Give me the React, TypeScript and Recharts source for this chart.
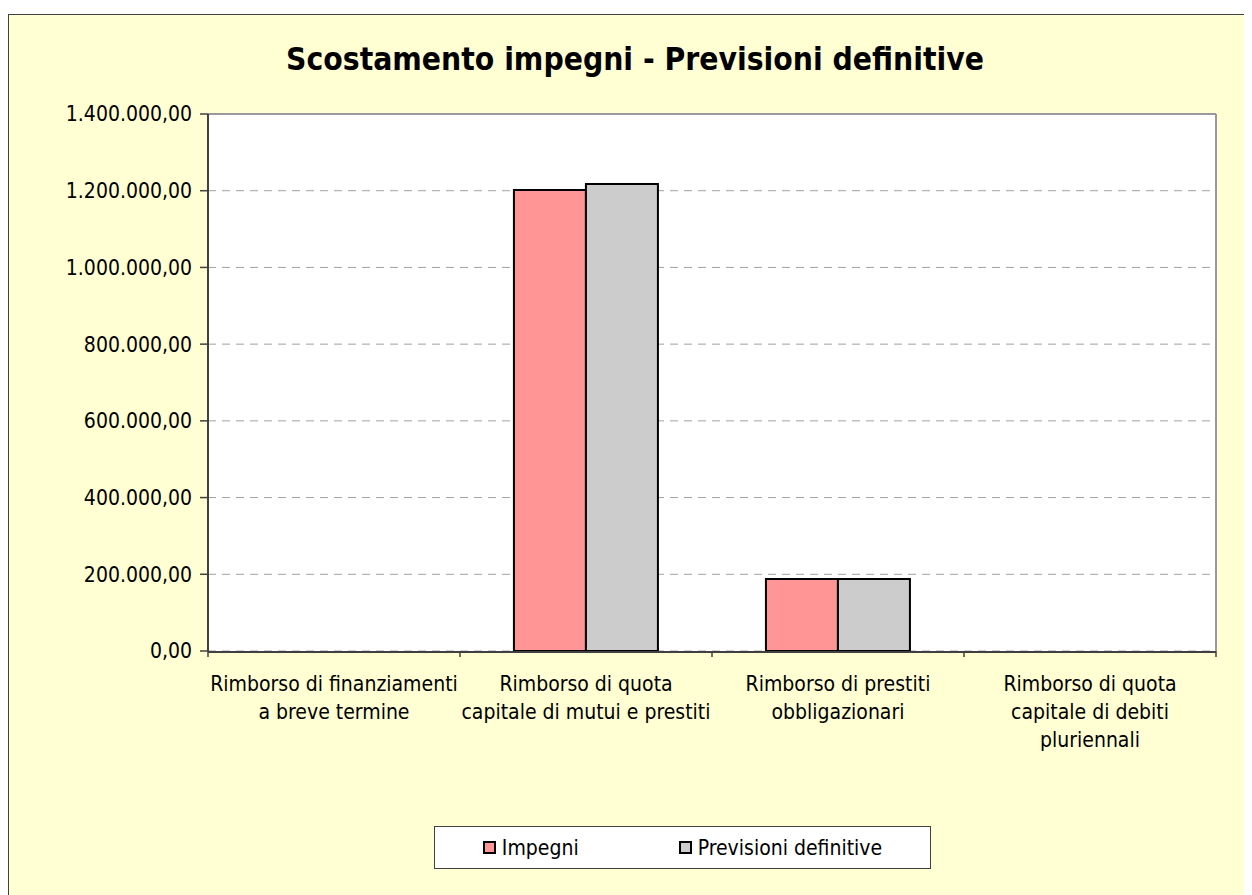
import React from 'react';
import { BarChart, Bar, XAxis, YAxis, CartesianGrid, Legend } from 'recharts';

const categories = [
    'Rimborso di finanziamenti\na breve termine',
    'Rimborso di quota\ncapitale di mutui e prestiti',
    'Rimborso di prestiti\nobbligazionari',
    'Rimborso di quota\ncapitale di debiti\npluriennali',
];
const impegni = [0, 1201800, 187600, 0];
const previsioni = [0, 1217500, 187600, 0];
const yTicks = [0, 200000, 400000, 600000, 800000, 1000000, 1200000, 1400000];
const boundaryTicks = [0, 1, 2, 3, 4];

const seriesNames = { impegni: 'Impegni', previsioni: 'Previsioni definitive' };
const colors = { impegni: '#FF9595', previsioni: '#CCCCCC' };

const data = categories.map((name, i) => ({
    name,
    impegni: impegni[i],
    previsioni: previsioni[i],
}));

const FONT = "'DejaVu Sans Condensed', 'DejaVu Sans', Tahoma, sans-serif";

// 1234567 -> "1.234.567,00"
const formatIt = (v: number) => {
    const [int, dec] = v.toFixed(2).split('.');
    return int.replace(/\B(?=(\d{3})+(?!\d))/g, '.') + ',' + dec;
};

const CategoryTick = (props: any) => {
    const { x, y, payload } = props;
    const lines = String(payload.value).split('\n');
    return (
        <text x={x} y={y} textAnchor="middle" fontSize={21} fill="#000" fontFamily={FONT}>
            {lines.map((l: string, i: number) => (
                <tspan key={i} x={x} dy={i === 0 ? 39 : 28}>
                    {l}
                </tspan>
            ))}
        </text>
    );
};

const LegendBox = () => (
    <div
        style={{
            width: 495,
            height: 41,
            background: '#fff',
            border: '1px solid #404040',
            display: 'flex',
            alignItems: 'center',
            justifyContent: 'center',
            fontFamily: FONT,
            fontSize: 21,
            color: '#000',
        }}
    >
        {(['impegni', 'previsioni'] as const).map((k, i) => (
            <div key={k} style={{ display: 'flex', alignItems: 'center', marginLeft: i === 0 ? 0 : 100 }}>
                <span
                    style={{
                        display: 'inline-block',
                        width: 9,
                        height: 9,
                        border: '2px solid #000',
                        background: colors[k],
                        marginRight: 6,
                    }}
                />
                <span>{seriesNames[k]}</span>
            </div>
        ))}
    </div>
);

export default function App() {
    return (
        <div style={{ width: 1244, height: 887, overflow: 'hidden', position: 'relative' }}>
            <div
                style={{
                    position: 'absolute',
                    left: 0,
                    top: 6,
                    width: 1254,
                    height: 900,
                    background: '#FFFFD3',
                    border: '1px solid #404040',
                    boxSizing: 'border-box',
                }}
            >
                <div
                    style={{
                        position: 'absolute',
                        left: 0,
                        width: 1252,
                        top: 26,
                        textAlign: 'center',
                        fontFamily: FONT,
                        fontWeight: 'bold',
                        fontSize: 31.5,
                        color: '#000',
                    }}
                >
                    Scostamento impegni - Previsioni definitive
                </div>
                <BarChart
                    width={1252}
                    height={880}
                    data={data}
                    margin={{ top: 98, right: 44, left: 0, bottom: 133 }}
                    barCategoryGap="21.4%"
                    barGap={0}
                >
                    <CartesianGrid
                        xAxisId="labels"
                        vertical={false}
                        stroke="#A0A0A0"
                        strokeDasharray="8 6"
                        fill="#FFFFFF"
                        fillOpacity={1}
                    />
                    {/* category boundaries, for the tick marks between groups */}
                    <XAxis
                        xAxisId="bounds"
                        type="number"
                        dataKey={() => 0}
                        domain={[0, 4]}
                        allowDataOverflow
                        ticks={boundaryTicks}
                        interval={0}
                        tickFormatter={() => ''}
                        axisLine={false}
                        tickLine={{ stroke: '#404040', strokeWidth: 1.5 }}
                        tickSize={6}
                        height={1}
                    />
                    <XAxis
                        xAxisId="labels"
                        dataKey="name"
                        interval={0}
                        tick={<CategoryTick />}
                        tickLine={false}
                        tickSize={0}
                        tickMargin={0}
                        axisLine={{ stroke: '#404040', strokeWidth: 2 }}
                        height={110}
                    />
                    <XAxis
                        xAxisId="top"
                        orientation="top"
                        height={1}
                        tick={false}
                        tickLine={false}
                        axisLine={{ stroke: '#999999', strokeWidth: 2 }}
                    />
                    <YAxis
                        domain={[0, 1400000]}
                        ticks={yTicks}
                        tickFormatter={formatIt}
                        width={199}
                        tickSize={8}
                        tickMargin={8}
                        interval={0}
                        tick={{ fill: '#000', fontSize: 21, fontFamily: FONT }}
                        tickLine={{ stroke: '#404040', strokeWidth: 1.5 }}
                        axisLine={{ stroke: '#404040', strokeWidth: 2 }}
                    />
                    <YAxis
                        yAxisId="right"
                        orientation="right"
                        width={1}
                        tick={false}
                        tickLine={false}
                        axisLine={{ stroke: '#999999', strokeWidth: 2 }}
                    />
                    <Legend
                        layout="horizontal"
                        verticalAlign="middle"
                        align="center"
                        content={<LegendBox />}
                        wrapperStyle={{ left: 425, top: 811, width: 497 }}
                    />
                    <Bar
                        xAxisId="labels"
                        dataKey="impegni"
                        name={seriesNames.impegni}
                        fill={colors.impegni}
                        stroke="#000"
                        strokeWidth={2}
                        isAnimationActive={false}
                    />
                    <Bar
                        xAxisId="labels"
                        dataKey="previsioni"
                        name={seriesNames.previsioni}
                        fill={colors.previsioni}
                        stroke="#000"
                        strokeWidth={2}
                        isAnimationActive={false}
                    />
                </BarChart>
            </div>
        </div>
    );
}
